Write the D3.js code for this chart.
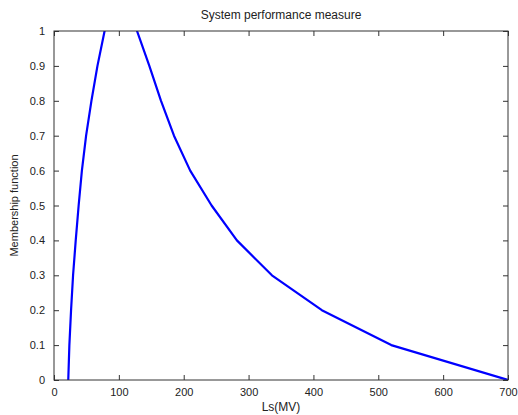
<!DOCTYPE html>
<html>
<head>
<meta charset="utf-8">
<script src="https://cdn.jsdelivr.net/npm/d3@7"></script>
<style>
  body { margin: 0; background: #fff; }
  text { font-family: Arial, "Liberation Sans", sans-serif; fill: #222; }
</style>
</head>
<body>
<div id="plot"></div>
<script>
// chart data: membership function of Ls(MV), peak goes above the axis and is clipped
const lsValues = [22, 23.7, 26.3, 29.4, 33.5, 38, 43, 49.5, 57.7, 67, 78,
                  97, 128, 147, 165, 185, 210, 243, 282, 336, 413, 520, 700];
const muValues = [0, 0.1, 0.2, 0.3, 0.4, 0.5, 0.6, 0.7, 0.8, 0.9, 1,
                  1.17, 1, 0.9, 0.8, 0.7, 0.6, 0.5, 0.4, 0.3, 0.2, 0.1, 0];
const xTicks = [0, 100, 200, 300, 400, 500, 600, 700];
const yTicks = [0, 0.1, 0.2, 0.3, 0.4, 0.5, 0.6, 0.7, 0.8, 0.9, 1];

const svgWidth = 518, svgHeight = 415;
const margin = {top: 31, right: 10, bottom: 35, left: 54};
const width = svgWidth - margin.left - margin.right;
const height = svgHeight - margin.top - margin.bottom;

let svg = d3.select("#plot")
  .append("svg")
  .attr("width", svgWidth)
  .attr("height", svgHeight);

svg.append("defs").append("clipPath")
  .attr("id", "clip")
  .append("rect")
  .attr("width", width)
  .attr("height", height);

let g = svg.append("g")
  .attr("transform", "translate(" + margin.left + "," + margin.top + ")");

var x = d3.scaleLinear().domain([0, 700]).range([0, width]);
var y = d3.scaleLinear().domain([0, 1]).range([height, 0]);

// axes, ticks point inward like matlab
function styleAxis(sel, noText) {
  sel.select(".domain").remove();
  sel.selectAll(".tick line").attr("stroke", "#333");
  sel.selectAll(".tick text").style("font-size", "11px").attr("fill", "#222");
  if (noText) sel.selectAll(".tick text").remove();
}

g.append("g")
  .attr("transform", "translate(0," + height + ")")
  .call(d3.axisBottom(x).tickValues(xTicks).tickSize(-5).tickPadding(8))
  .call(styleAxis);

g.append("g")
  .call(d3.axisTop(x).tickValues(xTicks).tickSize(-5))
  .call(s => styleAxis(s, true));

g.append("g")
  .call(d3.axisLeft(y).tickValues(yTicks).tickSize(-5).tickPadding(9)
    .tickFormat(d => d === 0 || d === 1 ? d3.format("d")(d) : d3.format(".1f")(d)))
  .call(styleAxis);

g.append("g")
  .attr("transform", "translate(" + width + ",0)")
  .call(d3.axisRight(y).tickValues(yTicks).tickSize(-5))
  .call(s => styleAxis(s, true));

// the curve
var points = lsValues.map((v, i) => [v, muValues[i]]);
g.append("path")
  .datum(points)
  .attr("clip-path", "url(#clip)")
  .attr("fill", "none")
  .attr("stroke", "#0000ff")
  .attr("stroke-width", 2.2)
  .attr("stroke-linejoin", "round")
  .attr("d", d3.line().x(d => x(d[0])).y(d => y(d[1])));

// box
g.append("rect")
  .attr("width", width)
  .attr("height", height)
  .attr("fill", "none")
  .attr("stroke", "#333")
  .attr("stroke-width", 1);

// labels
svg.append("text")
  .attr("x", margin.left + width / 2)
  .attr("y", 19)
  .attr("text-anchor", "middle")
  .style("font-size", "12px")
  .text("System performance measure");

svg.append("text")
  .attr("x", margin.left + width / 2)
  .attr("y", 411)
  .attr("text-anchor", "middle")
  .style("font-size", "12px")
  .text("Ls(MV)");

svg.append("text")
  .attr("transform", "translate(18," + (margin.top + height / 2) + ") rotate(-90)")
  .attr("text-anchor", "middle")
  .style("font-size", "11px")
  .text("Membership function");
</script>
</body>
</html>
